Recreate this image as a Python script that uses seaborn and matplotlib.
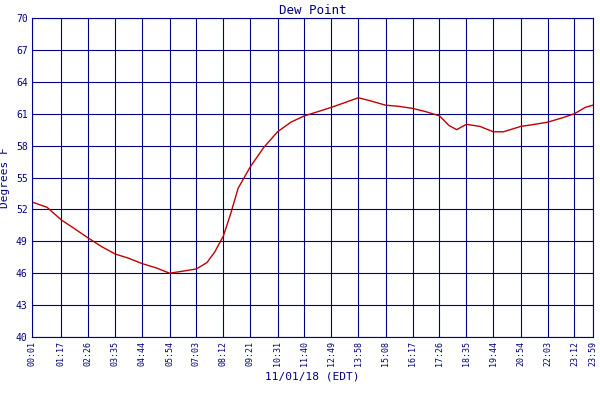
import matplotlib
matplotlib.use("Agg")
import matplotlib.pyplot as plt
import seaborn as sns
import pandas as pd

times = ["00:01","00:40","01:17","01:50","02:26","03:00","03:35","04:10","04:44","05:20","05:54","06:30",
         "07:03","07:30","07:50","08:12","08:30","08:50","09:21","09:55","10:31","11:05","11:40","12:15",
         "12:49","13:20","13:58","14:30","15:08","15:40","16:17","16:50","17:26","17:50","18:10","18:35",
         "19:10","19:44","20:10","20:54","21:30","22:03","22:40","23:12","23:40","23:59"]
dew = [52.7,52.2,51.0,50.2,49.3,48.5,47.8,47.4,46.9,46.5,46.0,46.2,
       46.4,47.0,48.0,49.5,51.5,54.0,56.0,57.8,59.3,60.2,60.8,61.2,
       61.6,62.0,62.5,62.2,61.8,61.7,61.5,61.2,60.8,59.9,59.5,60.0,
       59.8,59.3,59.3,59.8,60.0,60.2,60.6,61.0,61.6,61.8]
tick_labels = ["00:01","01:17","02:26","03:35","04:44","05:54","07:03","08:12","09:21","10:31","11:40",
               "12:49","13:58","15:08","16:17","17:26","18:35","19:44","20:54","22:03","23:12","23:59"]
yticks = [40,43,46,49,52,55,58,61,64,67,70]

def mins(t):
    h, m = t.split(":")
    return int(h)*60 + int(m)

df = pd.DataFrame({"t": [mins(t) for t in times], "v": dew})
navy = "#000080"
plt.rcParams["font.family"] = ["DejaVu Sans Mono"]
fig = plt.figure(figsize=(6,4), dpi=100)
ax = fig.add_axes([0.053, 0.1575, 0.935, 0.7975])
sns.lineplot(data=df, x="t", y="v", ax=ax, color="#c00000", lw=1, label="Dew Point")
ax.set_xlim(1, 1439)
ax.set_ylim(40, 70)
ax.set_yticks(yticks)
ax.set_yticklabels([str(y) for y in yticks], fontsize=7, color=navy)
ax.set_xticks([mins(t) for t in tick_labels])
ax.set_xticklabels(tick_labels, rotation=90, fontsize=6, color=navy)
ax.grid(True, color=navy, lw=0.8)
for s in ax.spines.values():
    s.set_color(navy)
ax.tick_params(length=0, pad=3)
ax.set_xlabel("11/01/18 (EDT)", color=navy, fontsize=8)
ax.set_ylabel("Degrees F", color=navy, fontsize=8)
ax.set_title("Dew Point", color=navy, fontsize=9, pad=3)
ax.legend(loc="upper center", bbox_to_anchor=(0.5, -0.21), frameon=False, fontsize=6,
          labelcolor=navy, handlelength=1.2)
fig.savefig("out.png")
